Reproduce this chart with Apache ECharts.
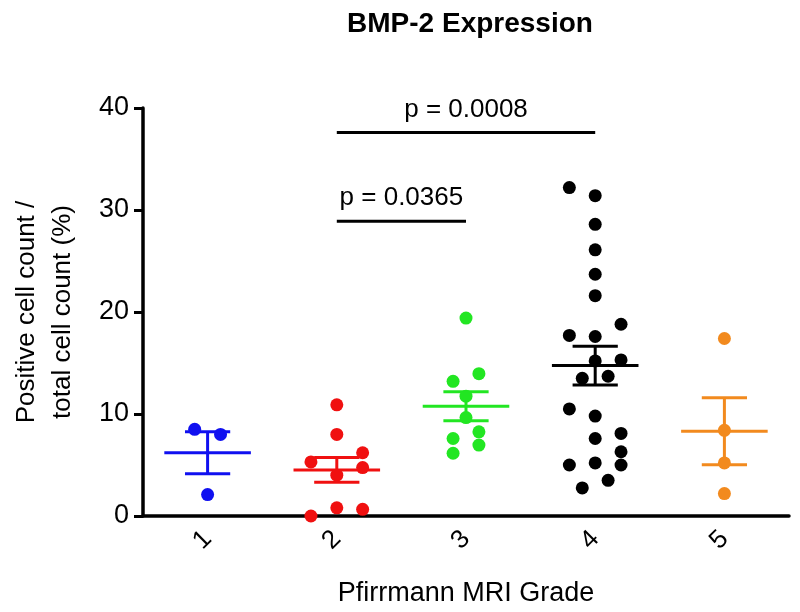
<!DOCTYPE html>
<html><head><meta charset="utf-8">
<script src="https://cdn.jsdelivr.net/npm/echarts@6/dist/echarts.min.js"></script>
<style>html,body{margin:0;padding:0;background:#fff}#c{width:800px;height:612px}</style>
</head><body><div id="c"></div>
<script>
const grades = ['1','2','3','4','5'];
const colors = ['#1010f0','#f01010','#22e622','#000000','#f28a1e'];
const values1 = [8.5, 8.0, 2.1];
const slots1  = [-0.5, 0.5, 0];
const values2 = [10.9, 8.0, 6.2, 5.3, 4.75, 4.0, 0.8, 0.65, 0.0];
const slots2  = [0, 0, 1, -1, 1, 0, 0, 1, -1];
const values3 = [19.4, 13.95, 13.2, 11.75, 9.65, 8.25, 7.6, 6.95, 6.15];
const slots3  = [0, 0.5, -0.5, 0, 0, 0.5, -0.5, 0.5, -0.5];
const values4 = [32.2, 31.4, 28.6, 26.1, 23.7, 21.6, 18.8, 17.7, 17.6, 15.2, 15.3, 13.5, 13.7, 10.5, 9.8, 7.6, 8.1, 6.3, 5.0, 5.0, 5.2, 3.5, 2.75];
const slots4  = [-1, 0, 0, 0, 0, 0, 1, -1, 0, 0, 1, -0.5, 0.5, -1, 0, 0, 1, 1, 1, -1, 0, 0.5, -0.5];
const values5 = [17.4, 8.4, 5.2, 2.2];
const slots5  = [0, 0, 0, 0];
const yTicks = [0, 10, 20, 30, 40];
const sigFrom = [2, 2];
const sigTo = [3, 4];
const sigLevel = [28.9, 37.6];
const sigLabels = ['p = 0.0365', 'p = 0.0008'];

const allValues = [values1, values2, values3, values4, values5];
const allSlots = [slots1, slots2, slots3, slots4, slots5];
const FONT = '"Liberation Sans", Arial, sans-serif';

function meanSem(a){
  const n=a.length, m=a.reduce((s,v)=>s+v,0)/n;
  const sd=Math.sqrt(a.reduce((s,v)=>s+(v-m)*(v-m),0)/(n-1));
  return [m, sd/Math.sqrt(n)];
}

const series = [];
allValues.forEach((vals, g) => {
  const ms = meanSem(vals);
  series.push({
    type: 'custom', xAxisIndex: 1, yAxisIndex: 0, z: 3,
    data: [[g+1, ms[0], ms[1]]],
    renderItem: function(params, api){
      const x = api.value(0), m = api.value(1), s = api.value(2);
      const w = api.size([1,0])[0];
      const c = api.coord([x, m]);
      const hi = api.coord([x, m+s]);
      const lo = api.coord([x, m-s]);
      const style = {stroke: colors[g], lineWidth: 3};
      return {type:'group', children:[
        {type:'line', shape:{x1:c[0]-0.335*w, y1:c[1], x2:c[0]+0.335*w, y2:c[1]}, style: style},
        {type:'line', shape:{x1:c[0], y1:hi[1], x2:c[0], y2:lo[1]}, style: style},
        {type:'line', shape:{x1:c[0]-0.175*w, y1:hi[1], x2:c[0]+0.175*w, y2:hi[1]}, style: style},
        {type:'line', shape:{x1:c[0]-0.175*w, y1:lo[1], x2:c[0]+0.175*w, y2:lo[1]}, style: style}
      ]};
    }
  });
  series.push({
    type: 'scatter', xAxisIndex: 1, yAxisIndex: 0, z: 4,
    symbol: 'circle', symbolSize: 13,
    itemStyle: {color: colors[g], opacity: 1},
    data: vals.map((v,i) => [g + 1 + allSlots[g][i]*0.2, v]),
    clip: false
  });
});
series.push({
  type: 'custom', xAxisIndex: 1, yAxisIndex: 0, z: 5, clip: false,
  data: sigFrom.map((f,i) => [f, sigTo[i], sigLevel[i], i]),
  renderItem: function(params, api){
    const a = api.coord([api.value(0), api.value(2)]);
    const b = api.coord([api.value(1), api.value(2)]);
    const i = api.value(3);
    return {type:'group', children:[
      {type:'line', shape:{x1:a[0], y1:a[1], x2:b[0], y2:b[1]}, style:{stroke:'#000', lineWidth:3}},
      {type:'text', x:(a[0]+b[0])/2, y:a[1]-10, style:{text:sigLabels[i], fill:'#000', font:'26px '+FONT, textAlign:'center', textVerticalAlign:'bottom'}}
    ]};
  }
});

const chart = echarts.init(document.getElementById('c'), null, {renderer:'canvas'});
chart.setOption({
  animation: false,
  backgroundColor: '#fff',
  title: {text: 'BMP-2 Expression', left: 465, top: 5, textAlign: 'center',
    textStyle: {fontFamily: FONT, fontSize: 28, fontWeight: 'bold', color: '#000'}},
  grid: {left: 143, right: 11, top: 108, bottom: 91, containLabel: false},
  xAxis: [
    {type: 'category', data: grades, boundaryGap: true,
     name: 'Pfirrmann MRI Grade', nameLocation: 'middle', nameGap: 64,
     nameTextStyle: {fontFamily: FONT, fontSize: 27, color: '#000'},
     axisLine: {lineStyle: {color: '#000', width: 3.5}},
     axisTick: {alignWithLabel: true, length: 9, lineStyle: {color:'#000', width: 3}},
     axisLabel: {rotate: 45, fontFamily: FONT, fontSize: 26, color: '#000', margin: 19}},
    {type: 'value', min: 0.5, max: 5.5, show: false}
  ],
  yAxis: [{type: 'value', min: 0, max: 40, interval: 10,
    name: 'Positive cell count /\ntotal cell count (%)', nameLocation: 'middle', nameGap: 62,
    nameTextStyle: {fontFamily: FONT, fontSize: 26, color: '#000', lineHeight: 36},
    axisLine: {show: true, lineStyle: {color: '#000', width: 3.5}},
    axisTick: {show: true, length: 9, lineStyle: {color:'#000', width: 3}},
    axisLabel: {fontFamily: FONT, fontSize: 27, color: '#000', margin: 14,
      formatter: v => yTicks.indexOf(v) >= 0 ? String(v) : ''},
    splitLine: {show: false}}],
  series: series
});
</script></body></html>
